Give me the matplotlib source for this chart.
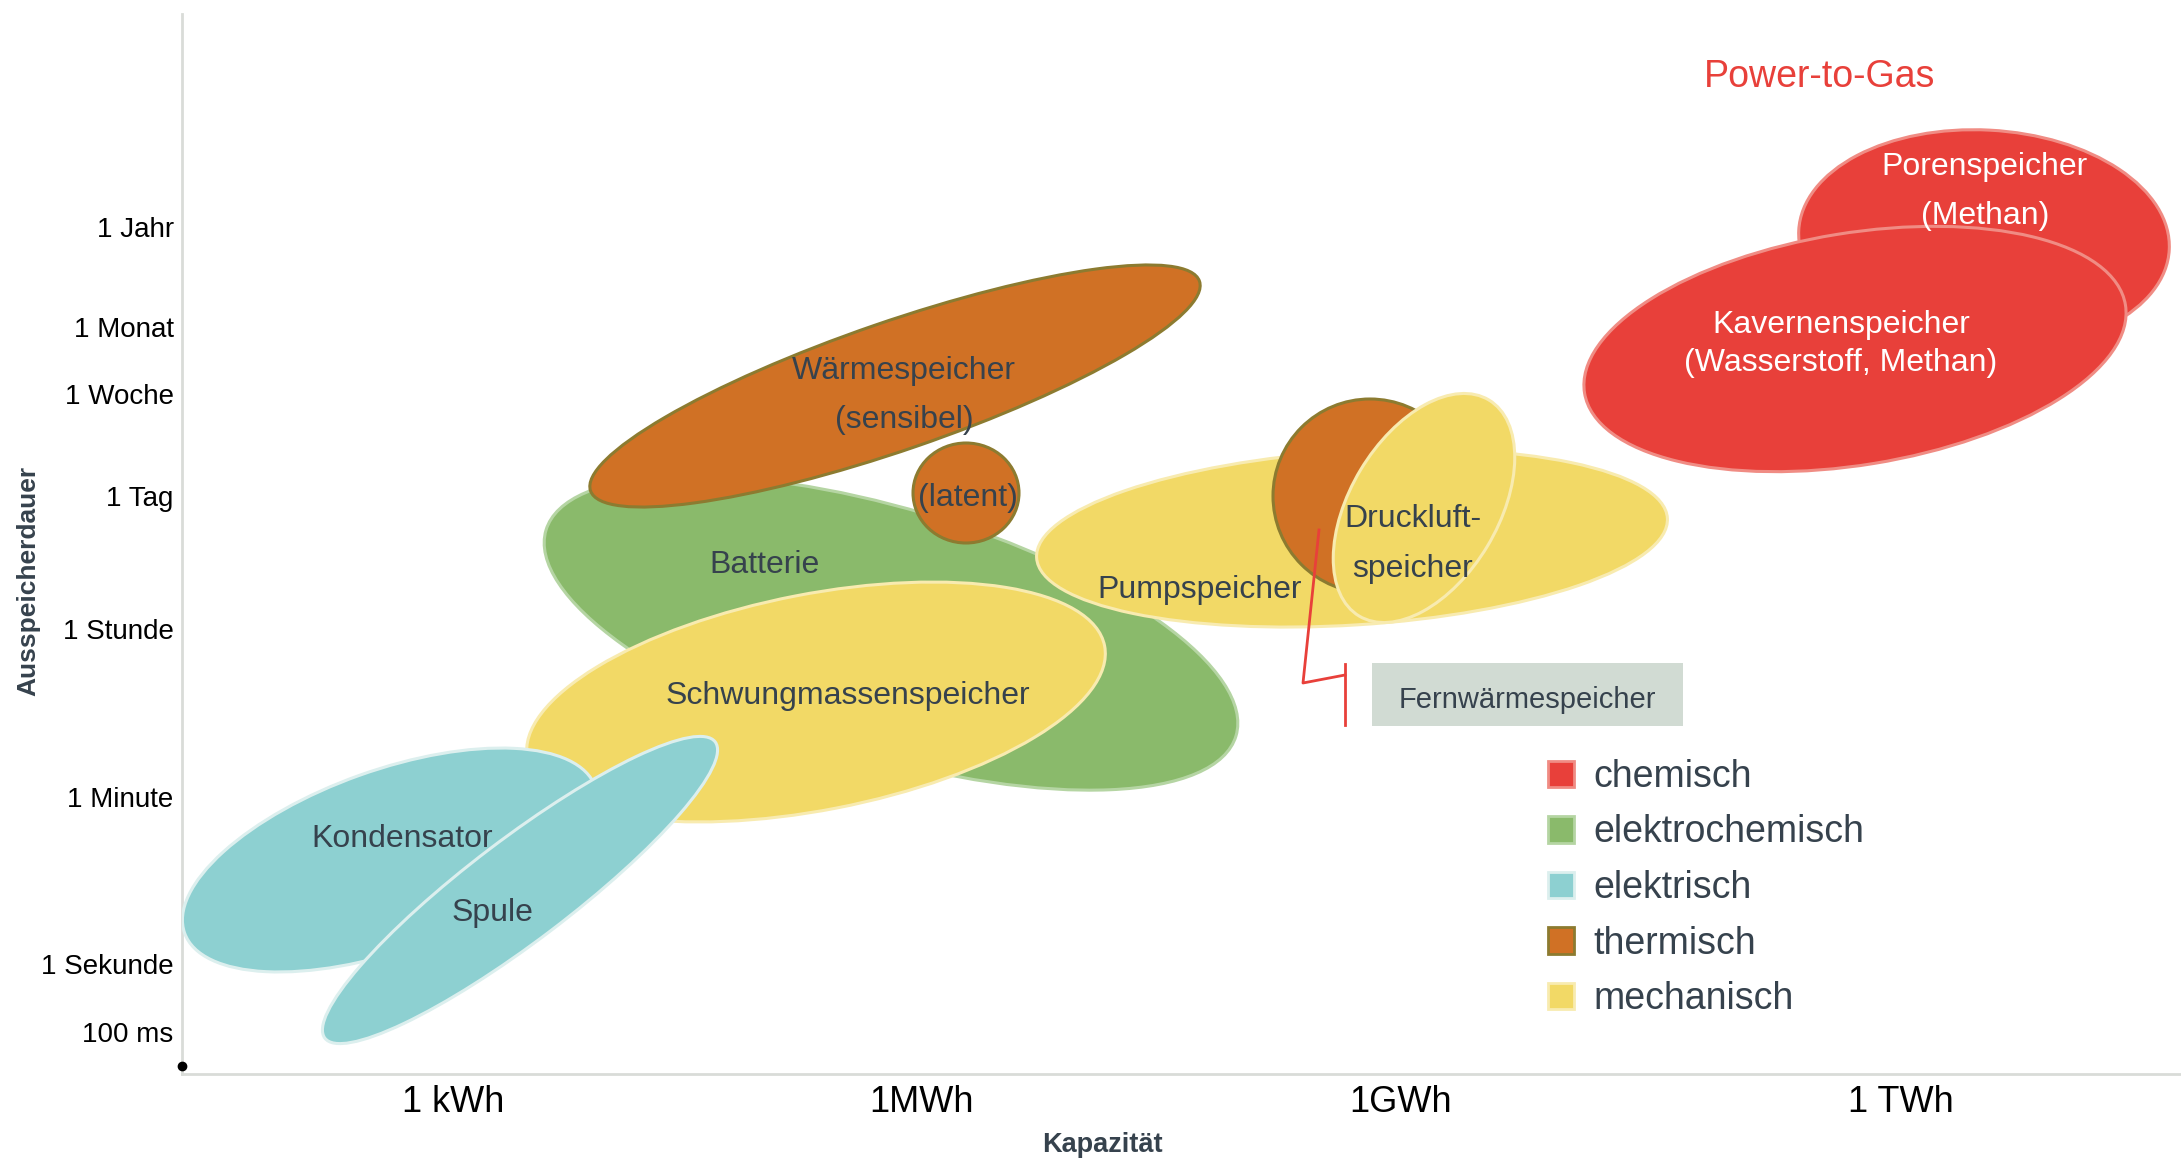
import matplotlib.pyplot as plt
from matplotlib.patches import Ellipse, Rectangle, Patch

plt.rcParams['font.family'] = ['Liberation Sans', 'DejaVu Sans']

# chart units: 1 unit ~ 1 px of the original picture, origin at the axis corner
x_tick_pos = [271, 740, 1219, 1719]
x_tick_labels = ['1 kWh', '1MWh', '1GWh', '1 TWh']
y_tick_pos = [847, 747, 680, 578, 445, 277, 110, 42]
y_tick_labels = ['1 Jahr', '1 Monat', '1 Woche', '1 Tag', '1 Stunde',
                 '1 Minute', '1 Sekunde', '100 ms']

categories = ['chemisch', 'elektrochemisch', 'elektrisch', 'thermisch', 'mechanisch']
cat_face = ['#e8403a', '#8aba6b', '#8dd0d1', '#d07125', '#f2d966']
cat_edge = ['#f08c84', '#b5d5a3', '#dcefee', '#8c7b30', '#f8ebb0']

# storage technologies as ellipses (drawing order = list order)
tech = ['Batterie', 'Wärmespeicher sensibel', 'Wärmespeicher latent', 'Schwungmassenspeicher',
        'Kondensator', 'Spule', 'Pumpspeicher', 'Druckluft thermisch', 'Druckluftspeicher',
        'Porenspeicher', 'Kavernenspeicher']
tech_cat = [1, 3, 3, 4, 2, 2, 4, 3, 4, 0, 0]
center_x = [709, 713, 784, 634, 208, 338, 1170, 1188, 1242, 1802, 1673]
center_y = [441, 688, 581, 372, 214, 184, 536, 578, 566, 834, 725]
ell_w = [720, 644, 106, 588, 436, 490, 632, 194, 252, 371, 548]
ell_h = [248, 128, 100, 216, 180, 102, 174, 194, 148, 220, 232]
ell_angle = [-16.6, 19, 0, 11, 19.6, 37.2, 3.6, 0, 59, -3, 9.25]

label_text = ['Wärmespeicher', '(sensibel)', '(latent)', 'Batterie', 'Schwungmassenspeicher',
              'Kondensator', 'Spule', 'Pumpspeicher', 'Druckluft-', 'speicher',
              'Kavernenspeicher', '(Wasserstoff, Methan)', 'Porenspeicher', '(Methan)']
label_x = [722, 722, 786, 583, 666, 220, 310, 1018, 1231, 1231, 1659, 1659, 1803, 1803]
label_y = [703, 654, 576, 509, 378, 235, 161, 484, 555, 505, 749, 711, 907, 858]
label_white = [False] * 10 + [True] * 4

fern_box = (1190, 348, 311, 63)
fern_text = 'Fernwärmespeicher'
callout_x = [1137, 1121, 1163]
callout_y = [544, 391, 399]
callout_bar_x = [1163, 1163]
callout_bar_y = [410, 349]
origin_mark = (0, 8)

text_col = '#36424d'

fig = plt.figure(figsize=(21.81, 11.6), dpi=100)
ax = fig.add_axes([182 / 2181, 86 / 1160, 1999 / 2181, 1060 / 1160])
ax.set_xlim(0, 1999)
ax.set_ylim(0, 1060)

for i in range(len(tech)):
    c = tech_cat[i]
    ax.add_patch(Ellipse((center_x[i], center_y[i]), ell_w[i], ell_h[i], angle=ell_angle[i],
                         facecolor=cat_face[c], edgecolor=cat_edge[c], lw=2.2, zorder=2 + i))

for t, x, y, w in zip(label_text, label_x, label_y, label_white):
    ax.text(x, y, t, ha='center', va='center', fontsize=23,
            color='white' if w else text_col, zorder=30)

ax.text(1638, 997, 'Power-to-Gas', ha='center', va='center', fontsize=27,
        color='#e8403a', zorder=30)

bx, by, bw, bh = fern_box
ax.add_patch(Rectangle((bx, by), bw, bh, facecolor='#d1dbd3', edgecolor='none', zorder=25))
ax.text(bx + bw / 2, 374, fern_text, ha='center', va='center', fontsize=21,
        color=text_col, zorder=30)
ax.plot(callout_x, callout_y, color='#e8403a', lw=2, zorder=28)
ax.plot(callout_bar_x, callout_bar_y, color='#e8403a', lw=2, zorder=28)

ax.plot(*origin_mark, 'o', color='black', ms=6, clip_on=False, zorder=40)

handles = [Patch(facecolor=f, edgecolor=e, lw=2) for f, e in zip(cat_face, cat_edge)]
leg = ax.legend(handles, categories, loc='upper left', bbox_to_anchor=(1366, 315),
                bbox_transform=ax.transData, frameon=False, fontsize=27,
                handlelength=0.7, handleheight=0.7, handletextpad=0.5,
                labelspacing=0.52, borderpad=0, borderaxespad=0)
for t in leg.get_texts():
    t.set_color(text_col)

ax.set_xticks(x_tick_pos)
ax.set_xticklabels(x_tick_labels, fontsize=26)
ax.set_yticks(y_tick_pos)
ax.set_yticklabels(y_tick_labels, fontsize=20)
ax.tick_params(length=0)
ax.tick_params(axis='x', pad=8)
ax.tick_params(axis='y', pad=6)

for s in ['top', 'right']:
    ax.spines[s].set_visible(False)
for s in ['left', 'bottom']:
    ax.spines[s].set_color('#d9dcd8')
    ax.spines[s].set_linewidth(2)

fig.text(1102 / 2181, 1 - 1145 / 1160, 'Kapazität', ha='center', va='center',
         fontsize=19.5, fontweight='bold', color=text_col)
fig.text(28 / 2181, 1 - 581 / 1160, 'Ausspeicherdauer', ha='center', va='center',
         rotation=90, fontsize=19, fontweight='bold', color=text_col)

fig.savefig('out.png', dpi=100)
